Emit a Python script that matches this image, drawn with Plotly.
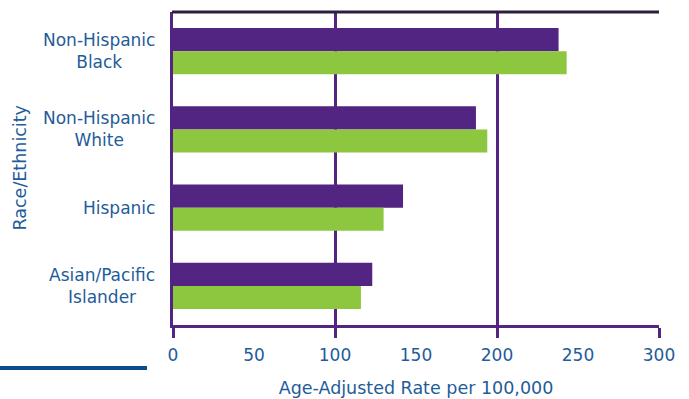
import plotly.graph_objects as go

# Age-adjusted rates by race/ethnicity, two series
categories = ["Non-Hispanic Black", "Non-Hispanic White", "Hispanic", "Asian/Pacific Islander"]
tick_labels = ["Non-Hispanic<br>Black", "Non-Hispanic<br>White", "Hispanic", "Asian/Pacific<br>Islander"]
series_purple = [238, 187, 142, 123]
series_green = [243, 194, 130, 116]
x_ticks = [0, 50, 100, 150, 200, 250, 300]

PURPLE = "#522582"
GREEN = "#8DC63F"
TEXT = "#1F5C99"
FONT = "DejaVu Sans"

fig = go.Figure()
fig.add_trace(go.Bar(y=categories, x=series_purple, orientation="h",
                     marker=dict(color=PURPLE, line=dict(width=0)), showlegend=False))
fig.add_trace(go.Bar(y=categories, x=series_green, orientation="h",
                     marker=dict(color=GREEN, line=dict(width=0)), showlegend=False))
# invisible trace that carries the labelled overlay axis
fig.add_trace(go.Scatter(x=[150], y=[categories[0]], xaxis="x2", mode="markers",
                         marker=dict(opacity=0), showlegend=False, hoverinfo="skip"))

fig.update_layout(
    width=689, height=399,
    margin=dict(l=173, r=30, t=12, b=74, autoexpand=False),
    paper_bgcolor="white", plot_bgcolor="white",
    barmode="group", bargap=0.41, bargroupgap=0,
    font=dict(family=FONT, color=TEXT, size=17),
    xaxis=dict(range=[0, 300], dtick=100, showgrid=True, gridcolor=PURPLE, gridwidth=2.5,
               showline=True, linecolor=PURPLE, linewidth=3, zeroline=False,
               ticks="outside", ticklen=10, tickwidth=2.5, tickcolor=PURPLE,
               showticklabels=False, automargin=False),
    xaxis2=dict(range=[0, 300], overlaying="x", side="bottom", tickvals=x_ticks,
                showgrid=False, zeroline=False, showline=False, automargin=False,
                ticks="outside", ticklen=15, tickcolor="rgba(0,0,0,0)",
                tickfont=dict(family=FONT, color=TEXT, size=17),
                title=dict(text="Age-Adjusted Rate per 100,000", standoff=17,
                           font=dict(family=FONT, color=TEXT, size=17.5))),
    yaxis=dict(categoryorder="array", categoryarray=categories, autorange="reversed",
               showline=True, linecolor=PURPLE, linewidth=3, showgrid=False,
               zeroline=False, showticklabels=False, ticks="", automargin=False),
)

# category labels, lines centred on each other
for cat, lab in zip(categories, tick_labels):
    fig.add_annotation(x=0, xref="paper", y=cat, yref="y", text=lab, showarrow=False,
                       xanchor="right", xshift=-16, align="center",
                       font=dict(family=FONT, color=TEXT, size=17))

fig.add_annotation(x=-154 / 486, xref="paper", xanchor="center", y=0.5, yref="paper",
                   text="Race/Ethnicity", textangle=-90, showarrow=False,
                   font=dict(family=FONT, color=TEXT, size=17.5))

# dark top border and blue rule at lower left
fig.add_shape(type="line", xref="paper", yref="paper", x0=-0.002, x1=1.0, y0=1, y1=1,
              line=dict(color="#2B1E3E", width=3))
fig.add_shape(type="line", xref="paper", yref="paper", x0=-173 / 486, x1=-26 / 486,
              y0=-43 / 313, y1=-43 / 313, line=dict(color="#0B4C8F", width=4))

fig.write_html("out.html")
